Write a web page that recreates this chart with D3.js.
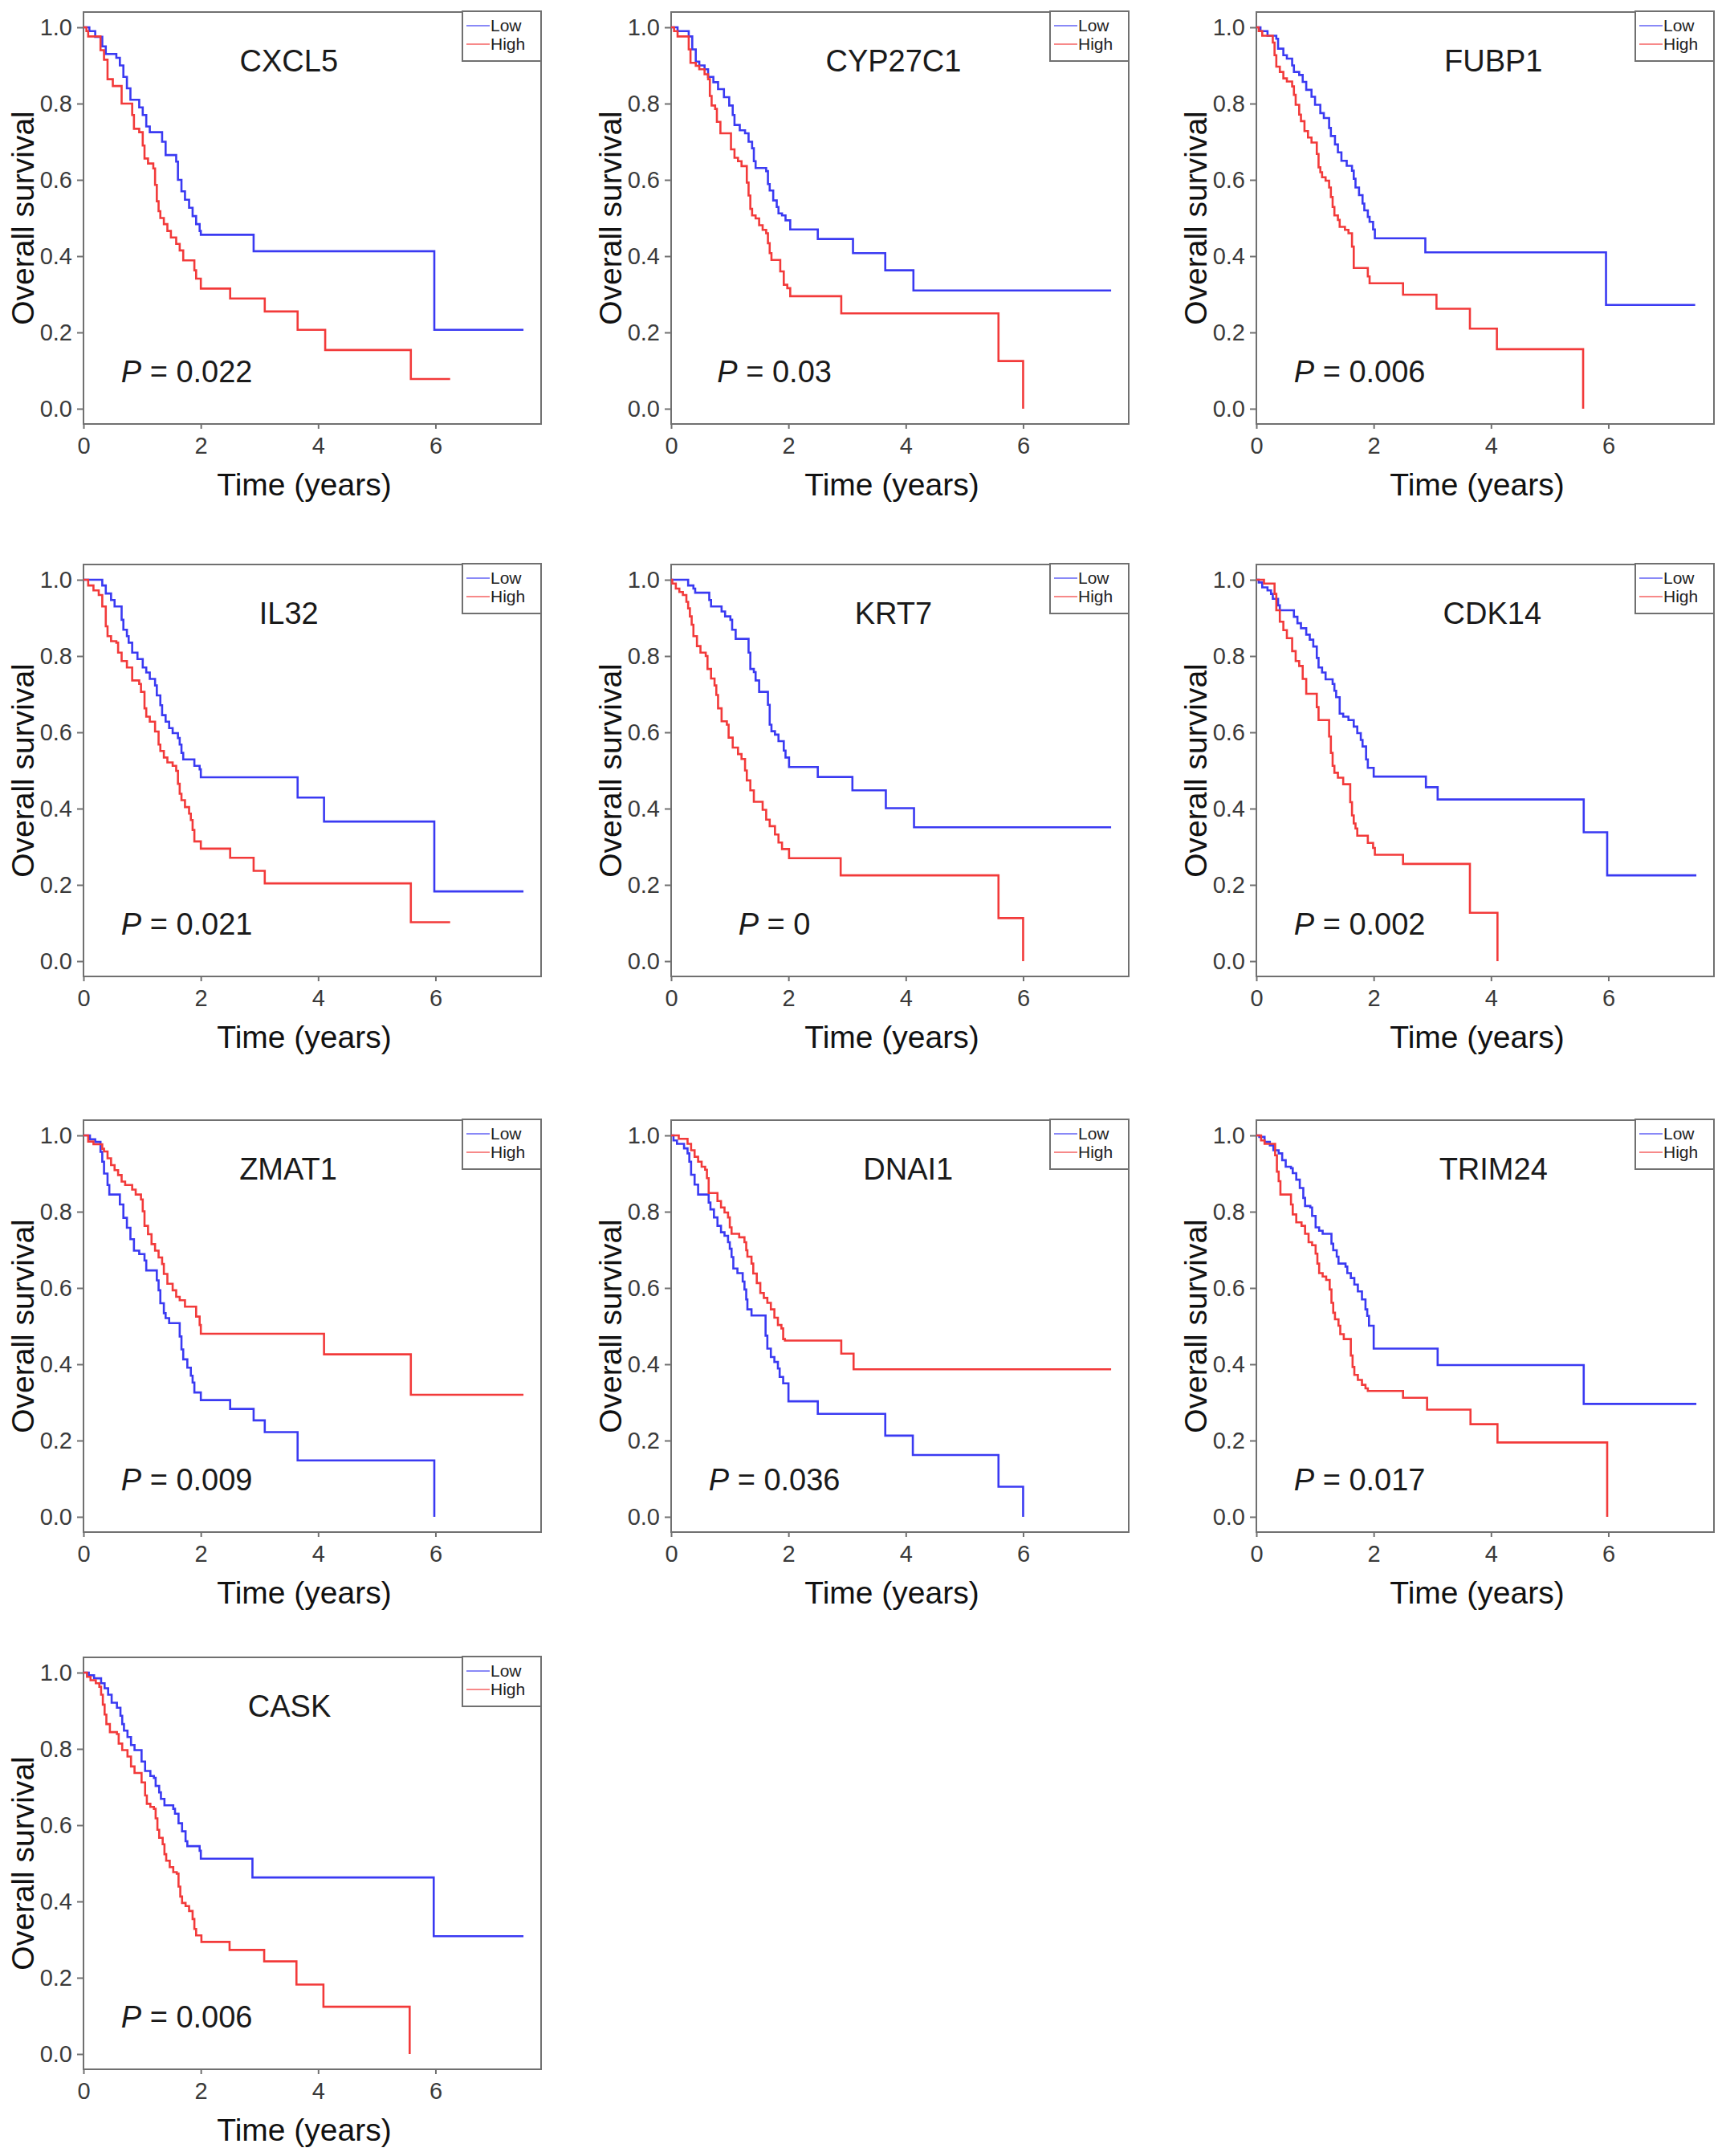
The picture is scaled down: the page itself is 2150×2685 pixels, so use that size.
<!DOCTYPE html>
<html>
<head>
<meta charset="utf-8">
<script src="https://cdn.jsdelivr.net/npm/d3@7"></script>
<style>
  html, body { margin: 0; padding: 0; background: #fff; }
  svg text { font-family: "Liberation Sans", Arial, sans-serif; }
</style>
</head>
<body>
<svg id="chart" width="2150" height="2685"></svg>
<script>
// 基因名与 P 值
const genes = ["CXCL5", "CYP27C1", "FUBP1", "IL32", "KRT7", "CDK14", "ZMAT1", "DNAI1", "TRIM24", "CASK"];
const pValues = ["0.022", "0.03", "0.006", "0.021", "0", "0.002", "0.009", "0.036", "0.017", "0.006"];

const xTicks = [0, 2, 4, 6];
const yTicks = [0, 0.2, 0.4, 0.6, 0.8, 1.0];
const seriesNames = ["Low", "High"];

// 生存曲线 [时间(年), 生存率]
const cxcl5Low = [[0,1],[0.1,0.99],[0.2,0.975],[0.32,0.95],[0.38,0.93],[0.56,0.92],[0.62,0.9],[0.68,0.87],[0.74,0.84],[0.8,0.81],[0.95,0.79],[1.01,0.77],[1.07,0.74],[1.13,0.725],[1.34,0.70],[1.4,0.665],[1.58,0.648],[1.61,0.60],[1.67,0.57],[1.73,0.548],[1.8,0.527],[1.86,0.505],[1.92,0.484],[1.98,0.466],[2.0,0.456],[2.9,0.413],[5.98,0.207],[7.5,0.207]];
const cxcl5High = [[0,1],[0.05,0.99],[0.08,0.976],[0.29,0.94],[0.35,0.915],[0.41,0.864],[0.5,0.846],[0.65,0.80],[0.83,0.77],[0.86,0.734],[0.95,0.725],[1.01,0.69],[1.04,0.656],[1.1,0.643],[1.19,0.63],[1.22,0.587],[1.25,0.544],[1.28,0.518],[1.31,0.50],[1.37,0.484],[1.43,0.466],[1.49,0.449],[1.58,0.432],[1.64,0.415],[1.7,0.389],[1.89,0.363],[1.92,0.341],[2.0,0.315],[2.5,0.289],[3.09,0.255],[3.65,0.207],[4.12,0.154],[5.58,0.078],[6.25,0.078]];

const cyp27c1Low = [[0,1],[0.11,0.99],[0.3,0.976],[0.36,0.942],[0.42,0.91],[0.48,0.90],[0.57,0.89],[0.63,0.87],[0.72,0.856],[0.8,0.838],[0.9,0.817],[0.99,0.795],[1.05,0.77],[1.08,0.744],[1.17,0.73],[1.26,0.722],[1.32,0.70],[1.38,0.683],[1.41,0.649],[1.44,0.631],[1.62,0.623],[1.65,0.589],[1.68,0.572],[1.74,0.546],[1.8,0.529],[1.83,0.512],[1.89,0.507],[1.95,0.494],[2.03,0.47],[2.5,0.445],[3.1,0.408],[3.65,0.363],[4.13,0.31],[7.5,0.31]];
const cyp27c1High = [[0,1],[0.05,0.99],[0.11,0.976],[0.3,0.942],[0.33,0.907],[0.42,0.899],[0.48,0.89],[0.57,0.877],[0.63,0.864],[0.66,0.82],[0.69,0.795],[0.75,0.786],[0.78,0.752],[0.84,0.722],[1.02,0.68],[1.08,0.658],[1.14,0.649],[1.2,0.636],[1.29,0.593],[1.32,0.559],[1.35,0.524],[1.38,0.507],[1.44,0.499],[1.5,0.481],[1.56,0.469],[1.62,0.46],[1.65,0.434],[1.68,0.408],[1.71,0.39],[1.86,0.36],[1.92,0.325],[1.98,0.316],[2.03,0.295],[2.9,0.25],[5.58,0.125],[6.0,0]];

const fubp1Low = [[0,1],[0.07,0.99],[0.19,0.978],[0.34,0.97],[0.37,0.944],[0.46,0.927],[0.52,0.918],[0.61,0.90],[0.64,0.883],[0.73,0.875],[0.79,0.857],[0.85,0.836],[0.94,0.818],[1.0,0.797],[1.09,0.775],[1.15,0.762],[1.24,0.736],[1.27,0.715],[1.34,0.693],[1.39,0.672],[1.45,0.65],[1.54,0.637],[1.63,0.624],[1.66,0.603],[1.69,0.58],[1.75,0.56],[1.81,0.538],[1.84,0.52],[1.9,0.503],[1.93,0.49],[1.99,0.47],[2.02,0.447],[2.88,0.41],[5.96,0.272],[7.48,0.272]];
const fubp1High = [[0,1],[0.04,0.99],[0.1,0.978],[0.28,0.96],[0.31,0.927],[0.34,0.897],[0.4,0.883],[0.46,0.866],[0.52,0.858],[0.61,0.845],[0.64,0.823],[0.67,0.797],[0.73,0.771],[0.76,0.754],[0.82,0.728],[0.88,0.711],[0.94,0.698],[1.03,0.668],[1.06,0.633],[1.09,0.62],[1.12,0.607],[1.18,0.598],[1.24,0.58],[1.27,0.555],[1.3,0.529],[1.33,0.507],[1.39,0.495],[1.42,0.477],[1.51,0.469],[1.57,0.46],[1.63,0.425],[1.66,0.369],[1.9,0.347],[1.93,0.329],[2.5,0.299],[3.07,0.262],[3.64,0.21],[4.1,0.156],[5.57,0]];

const il32Low = [[0,1],[0.32,0.985],[0.38,0.964],[0.47,0.947],[0.53,0.93],[0.65,0.895],[0.68,0.869],[0.74,0.852],[0.77,0.835],[0.83,0.809],[0.92,0.792],[1.01,0.77],[1.07,0.757],[1.13,0.74],[1.22,0.723],[1.25,0.697],[1.31,0.671],[1.34,0.645],[1.4,0.628],[1.46,0.611],[1.52,0.598],[1.61,0.585],[1.64,0.568],[1.67,0.546],[1.7,0.529],[1.89,0.512],[1.98,0.503],[2.0,0.482],[3.65,0.429],[4.1,0.366],[5.98,0.183],[7.5,0.183]];
const il32High = [[0,1],[0.08,0.985],[0.17,0.972],[0.26,0.96],[0.32,0.93],[0.38,0.878],[0.41,0.852],[0.47,0.839],[0.56,0.835],[0.59,0.809],[0.65,0.787],[0.74,0.77],[0.83,0.736],[0.95,0.727],[0.98,0.706],[1.04,0.663],[1.07,0.641],[1.13,0.628],[1.22,0.602],[1.28,0.568],[1.31,0.551],[1.37,0.534],[1.43,0.521],[1.52,0.512],[1.58,0.499],[1.61,0.465],[1.64,0.439],[1.67,0.422],[1.73,0.404],[1.8,0.387],[1.83,0.37],[1.86,0.344],[1.89,0.314],[2.0,0.295],[2.5,0.271],[2.9,0.237],[3.09,0.204],[5.58,0.102],[6.25,0.102]];

const krt7Low = [[0,1],[0.29,0.985],[0.38,0.977],[0.41,0.966],[0.65,0.947],[0.68,0.93],[0.86,0.917],[0.92,0.904],[1.01,0.895],[1.04,0.869],[1.1,0.845],[1.32,0.809],[1.35,0.766],[1.41,0.758],[1.44,0.736],[1.5,0.706],[1.65,0.672],[1.68,0.62],[1.71,0.603],[1.77,0.594],[1.83,0.577],[1.92,0.552],[1.95,0.534],[2.01,0.509],[2.5,0.483],[3.09,0.448],[3.66,0.401],[4.14,0.351],[7.5,0.351]];
const krt7High = [[0,1],[0.02,0.99],[0.08,0.977],[0.14,0.968],[0.2,0.96],[0.26,0.942],[0.29,0.925],[0.32,0.904],[0.35,0.882],[0.38,0.852],[0.44,0.826],[0.5,0.809],[0.59,0.8],[0.62,0.766],[0.68,0.741],[0.74,0.723],[0.77,0.698],[0.8,0.663],[0.86,0.629],[0.95,0.62],[0.98,0.586],[1.05,0.56],[1.14,0.543],[1.2,0.53],[1.26,0.5],[1.29,0.474],[1.35,0.448],[1.41,0.418],[1.56,0.397],[1.62,0.371],[1.68,0.354],[1.77,0.332],[1.83,0.311],[1.89,0.294],[2.01,0.27],[2.89,0.225],[5.58,0.113],[6.0,0]];

const cdk14Low = [[0,1],[0.04,0.993],[0.1,0.98],[0.19,0.972],[0.25,0.963],[0.28,0.95],[0.37,0.933],[0.4,0.92],[0.64,0.903],[0.7,0.886],[0.76,0.873],[0.85,0.856],[0.91,0.843],[0.97,0.825],[1.03,0.795],[1.06,0.77],[1.12,0.757],[1.18,0.739],[1.3,0.727],[1.33,0.709],[1.36,0.692],[1.42,0.649],[1.48,0.641],[1.57,0.632],[1.66,0.615],[1.72,0.598],[1.78,0.58],[1.81,0.563],[1.87,0.529],[1.9,0.507],[2.0,0.484],[2.89,0.456],[3.09,0.424],[5.58,0.338],[5.98,0.225],[7.5,0.225]];
const cdk14High = [[0,1],[0.13,0.99],[0.31,0.963],[0.34,0.92],[0.4,0.89],[0.46,0.868],[0.52,0.847],[0.61,0.813],[0.67,0.787],[0.73,0.774],[0.79,0.74],[0.85,0.701],[1.03,0.666],[1.06,0.632],[1.24,0.589],[1.27,0.546],[1.3,0.512],[1.33,0.494],[1.39,0.481],[1.48,0.464],[1.6,0.417],[1.63,0.382],[1.66,0.361],[1.69,0.348],[1.72,0.329],[1.9,0.31],[1.99,0.297],[2.02,0.279],[2.5,0.255],[3.64,0.127],[4.11,0]];

const zmat1Low = [[0,1],[0.11,0.99],[0.2,0.983],[0.29,0.957],[0.32,0.931],[0.35,0.9],[0.41,0.87],[0.44,0.845],[0.62,0.819],[0.68,0.784],[0.74,0.758],[0.8,0.728],[0.86,0.698],[0.95,0.689],[1.04,0.672],[1.07,0.646],[1.25,0.62],[1.28,0.594],[1.31,0.56],[1.37,0.534],[1.4,0.521],[1.46,0.508],[1.64,0.473],[1.67,0.439],[1.7,0.413],[1.77,0.391],[1.83,0.37],[1.86,0.352],[1.89,0.326],[2.0,0.306],[2.5,0.283],[2.9,0.253],[3.09,0.222],[3.65,0.148],[5.98,0]];
const zmat1High = [[0,1],[0.08,0.984],[0.17,0.977],[0.32,0.965],[0.35,0.958],[0.41,0.94],[0.47,0.922],[0.53,0.909],[0.59,0.896],[0.65,0.879],[0.71,0.87],[0.83,0.858],[0.89,0.845],[0.98,0.832],[1.01,0.801],[1.04,0.763],[1.1,0.741],[1.16,0.715],[1.22,0.698],[1.28,0.68],[1.34,0.663],[1.37,0.637],[1.43,0.611],[1.52,0.594],[1.58,0.577],[1.64,0.568],[1.73,0.551],[1.92,0.525],[1.98,0.503],[2.0,0.48],[4.1,0.426],[5.58,0.32],[7.5,0.32]];

const dnai1Low = [[0,1],[0.04,0.987],[0.1,0.978],[0.22,0.966],[0.28,0.953],[0.31,0.931],[0.34,0.897],[0.4,0.871],[0.46,0.845],[0.64,0.824],[0.67,0.806],[0.73,0.785],[0.79,0.763],[0.85,0.746],[0.91,0.737],[0.97,0.72],[1.0,0.703],[1.03,0.681],[1.06,0.651],[1.13,0.639],[1.22,0.617],[1.25,0.596],[1.28,0.57],[1.3,0.544],[1.37,0.528],[1.61,0.475],[1.64,0.441],[1.7,0.419],[1.76,0.406],[1.82,0.389],[1.85,0.367],[1.91,0.35],[2.0,0.303],[2.5,0.27],[3.65,0.213],[4.12,0.162],[5.58,0.079],[6.0,0]];
const dnai1High = [[0,1],[0.13,0.991],[0.28,0.978],[0.34,0.961],[0.4,0.944],[0.46,0.931],[0.52,0.918],[0.58,0.91],[0.61,0.888],[0.64,0.849],[0.79,0.828],[0.85,0.811],[0.91,0.798],[0.97,0.785],[1.0,0.759],[1.03,0.742],[1.16,0.733],[1.25,0.72],[1.28,0.699],[1.3,0.682],[1.37,0.664],[1.4,0.638],[1.46,0.613],[1.52,0.587],[1.58,0.574],[1.64,0.561],[1.7,0.544],[1.76,0.522],[1.82,0.503],[1.88,0.494],[1.91,0.466],[1.94,0.462],[2.9,0.428],[3.11,0.387],[7.5,0.387]];

const trim24Low = [[0,1],[0.05,0.996],[0.14,0.983],[0.23,0.974],[0.29,0.961],[0.38,0.953],[0.44,0.935],[0.5,0.918],[0.59,0.914],[0.62,0.901],[0.68,0.884],[0.74,0.862],[0.8,0.836],[0.83,0.815],[0.92,0.811],[0.95,0.789],[1.01,0.759],[1.07,0.75],[1.13,0.742],[1.28,0.716],[1.31,0.699],[1.37,0.682],[1.4,0.664],[1.52,0.656],[1.55,0.639],[1.61,0.626],[1.67,0.609],[1.73,0.591],[1.8,0.57],[1.86,0.544],[1.89,0.527],[1.92,0.501],[2.0,0.441],[3.09,0.398],[5.58,0.296],[7.5,0.296]];
const trim24High = [[0,1],[0.08,0.987],[0.14,0.978],[0.32,0.948],[0.35,0.905],[0.38,0.88],[0.41,0.845],[0.59,0.819],[0.62,0.793],[0.68,0.772],[0.77,0.763],[0.83,0.742],[0.89,0.72],[0.95,0.712],[1.01,0.69],[1.04,0.664],[1.07,0.639],[1.13,0.63],[1.19,0.621],[1.25,0.596],[1.28,0.561],[1.31,0.535],[1.34,0.518],[1.4,0.501],[1.43,0.479],[1.49,0.466],[1.61,0.423],[1.64,0.393],[1.67,0.372],[1.73,0.359],[1.8,0.346],[1.86,0.337],[1.9,0.33],[2.5,0.312],[2.91,0.281],[3.65,0.243],[4.11,0.195],[5.98,0]];

const caskLow = [[0,1],[0.09,0.993],[0.18,0.985],[0.3,0.972],[0.36,0.959],[0.42,0.942],[0.48,0.921],[0.57,0.908],[0.63,0.887],[0.66,0.865],[0.69,0.848],[0.75,0.831],[0.81,0.81],[0.87,0.797],[0.99,0.767],[1.05,0.742],[1.14,0.729],[1.2,0.724],[1.23,0.703],[1.29,0.686],[1.32,0.669],[1.38,0.652],[1.53,0.643],[1.56,0.63],[1.62,0.605],[1.68,0.584],[1.74,0.558],[1.77,0.545],[1.98,0.533],[2.0,0.512],[2.88,0.463],[5.97,0.309],[7.5,0.309]];
const caskHigh = [[0,1],[0.06,0.989],[0.12,0.98],[0.21,0.972],[0.27,0.963],[0.3,0.942],[0.33,0.916],[0.36,0.89],[0.39,0.865],[0.45,0.844],[0.57,0.839],[0.6,0.814],[0.66,0.797],[0.75,0.78],[0.81,0.754],[0.87,0.737],[0.99,0.712],[1.05,0.678],[1.08,0.656],[1.14,0.648],[1.2,0.643],[1.23,0.618],[1.26,0.588],[1.29,0.567],[1.35,0.55],[1.38,0.524],[1.41,0.507],[1.47,0.49],[1.53,0.477],[1.59,0.473],[1.62,0.439],[1.65,0.413],[1.68,0.396],[1.74,0.388],[1.8,0.375],[1.86,0.354],[1.89,0.328],[1.92,0.311],[2.01,0.294],[2.49,0.273],[3.08,0.243],[3.63,0.182],[4.09,0.124],[5.56,0]];

const lowCurves = [cxcl5Low, cyp27c1Low, fubp1Low, il32Low, krt7Low, cdk14Low, zmat1Low, dnai1Low, trim24Low, caskLow];
const highCurves = [cxcl5High, cyp27c1High, fubp1High, il32High, krt7High, cdk14High, zmat1High, dnai1High, trim24High, caskHigh];

// 版面布局
const colLeft = [104, 836, 1565];
const rowTop = [15, 703, 1395, 2064];
const boxW = 570, boxH = 513;
const titleX = [3.5, 3.79, 4.04, 3.5, 3.79, 4.02, 3.49, 4.04, 4.04, 3.51];
const colors = { Low: "#3a3af2", High: "#f23a3a" };
const axisColor = "#707070";

const svg = d3.select("#chart");
svg.append("rect").attr("width", 2150).attr("height", 2685).attr("fill", "#fff");

genes.forEach((gene, i) => {
    const L = colLeft[i % 3];
    const T = rowTop[Math.floor(i / 3)];
    const R = L + boxW;

    const x = d3.scaleLinear().domain([0, 7.8]).range([L, R]);
    const y = d3.scaleLinear().domain([-0.04, 1.04]).range([T + boxH, T]);

    const g = svg.append("g").attr("class", "panel");

    // 坐标轴
    const xAxis = g.append("g")
        .attr("transform", `translate(0,${T + boxH})`)
        .call(d3.axisBottom(x).tickValues(xTicks).tickSize(6).tickPadding(10).tickFormat(d3.format("d")));
    const yAxis = g.append("g")
        .attr("transform", `translate(${L},0)`)
        .call(d3.axisLeft(y).tickValues(yTicks).tickSize(8).tickPadding(6).tickFormat(d3.format(".1f")));

    [xAxis, yAxis].forEach(ax => {
        ax.select(".domain").remove();
        ax.selectAll(".tick line").attr("stroke", axisColor).attr("stroke-width", 2);
        ax.selectAll(".tick text")
            .attr("fill", "#3a3a3a")
            .attr("font-size", 29)
            .attr("font-family", "Liberation Sans, Arial, sans-serif");
    });

    // 边框
    g.append("rect")
        .attr("x", L).attr("y", T)
        .attr("width", boxW).attr("height", boxH)
        .attr("fill", "none")
        .attr("stroke", axisColor)
        .attr("stroke-width", 2);

    // 生存曲线
    const line = d3.line()
        .x(d => x(d[0]))
        .y(d => y(d[1]))
        .curve(d3.curveStepAfter);

    [["Low", lowCurves[i]], ["High", highCurves[i]]].forEach(([name, data]) => {
        g.append("path")
            .datum(data)
            .attr("d", line)
            .attr("fill", "none")
            .attr("stroke", colors[name])
            .attr("stroke-width", 2.6);
    });

    // 基因名
    g.append("text")
        .attr("x", x(titleX[i]))
        .attr("y", y(0.885))
        .attr("text-anchor", "middle")
        .attr("font-size", 38)
        .attr("fill", "#1a1a1a")
        .text(gene);

    // P 值
    const pText = g.append("text")
        .attr("x", x(1.76))
        .attr("y", y(0.07))
        .attr("text-anchor", "middle")
        .attr("font-size", 38)
        .attr("fill", "#1a1a1a");
    pText.append("tspan").attr("font-style", "italic").text("P");
    pText.append("tspan").text(" = " + pValues[i]);

    // 图例
    const lg = g.append("g").attr("transform", `translate(${R - 98},${T - 1})`);
    lg.append("rect")
        .attr("width", 98).attr("height", 62)
        .attr("fill", "#fff")
        .attr("stroke", axisColor)
        .attr("stroke-width", 2);
    seriesNames.forEach((name, k) => {
        const ly = 18 + k * 23;
        lg.append("line")
            .attr("x1", 5).attr("x2", 34)
            .attr("y1", ly).attr("y2", ly)
            .attr("stroke", colors[name])
            .attr("stroke-opacity", 0.6)
            .attr("stroke-width", 2);
        lg.append("text")
            .attr("x", 35)
            .attr("y", ly + 7)
            .attr("font-size", 21)
            .attr("fill", "#222")
            .text(name);
    });

    // 轴标题
    g.append("text")
        .attr("transform", `translate(${L - 62},${T + boxH / 2}) rotate(-90)`)
        .attr("text-anchor", "middle")
        .attr("font-size", 39)
        .attr("fill", "#111")
        .text("Overall survival");

    g.append("text")
        .attr("x", L + boxW / 2 - 10)
        .attr("y", T + boxH + 89)
        .attr("text-anchor", "middle")
        .attr("font-size", 39)
        .attr("fill", "#111")
        .text("Time (years)");
});
</script>
</body>
</html>
